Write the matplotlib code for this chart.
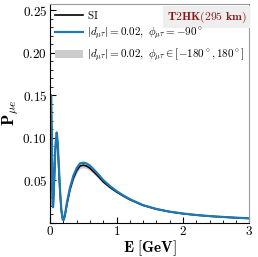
import matplotlib
matplotlib.use('Agg')
import matplotlib.pyplot as plt
from matplotlib.ticker import MultipleLocator, FuncFormatter
from matplotlib.patches import Patch
from matplotlib.lines import Line2D

plt.rcParams['mathtext.fontset'] = 'cm'
plt.rcParams['font.family'] = 'serif'
plt.rcParams['font.serif'] = ['DejaVu Serif']

# energies (GeV)
energy = [0.003, 0.015, 0.03, 0.045, 0.06, 0.08, 0.10, 0.115, 0.13, 0.15,
          0.17, 0.19, 0.20, 0.21, 0.23, 0.26, 0.30, 0.35, 0.40, 0.45,
          0.50, 0.55, 0.60, 0.70, 0.80, 0.90, 1.0, 1.1, 1.2, 1.4,
          1.6, 1.8, 2.0, 2.2, 2.4, 2.6, 2.8, 3.0]

# phi = -90 deg curve
p_m90 = [0.020, 0.150, 0.080, 0.018, 0.045, 0.090, 0.106, 0.095, 0.070, 0.038,
         0.015, 0.004, 0.003, 0.004, 0.012, 0.026, 0.041, 0.055, 0.064, 0.0695,
         0.0705, 0.0695, 0.067, 0.059, 0.050, 0.043, 0.037, 0.032, 0.0275, 0.0205,
         0.016, 0.0128, 0.0106, 0.0089, 0.0076, 0.0066, 0.0057, 0.0050]

# standard interactions
p_si = [0.020, 0.147, 0.078, 0.018, 0.043, 0.086, 0.101, 0.091, 0.067, 0.036,
        0.014, 0.004, 0.003, 0.004, 0.011, 0.024, 0.039, 0.052, 0.061, 0.0665,
        0.0675, 0.0665, 0.064, 0.0565, 0.048, 0.0415, 0.036, 0.0313, 0.027, 0.0202,
        0.0158, 0.0127, 0.0105, 0.0088, 0.0075, 0.0065, 0.0056, 0.0049]

# band over all phases
band_lo = [0.019, 0.144, 0.075, 0.016, 0.041, 0.083, 0.098, 0.088, 0.064, 0.034,
           0.013, 0.003, 0.002, 0.003, 0.010, 0.022, 0.036, 0.049, 0.058, 0.0635,
           0.0645, 0.0635, 0.061, 0.054, 0.046, 0.040, 0.035, 0.0305, 0.0263, 0.0198,
           0.0155, 0.0125, 0.0103, 0.0087, 0.0074, 0.0064, 0.0055, 0.0048]
band_hi = [0.021, 0.152, 0.082, 0.020, 0.046, 0.091, 0.107, 0.096, 0.071, 0.039,
           0.016, 0.005, 0.004, 0.005, 0.013, 0.027, 0.042, 0.056, 0.065, 0.0705,
           0.0715, 0.0705, 0.068, 0.060, 0.051, 0.044, 0.038, 0.0328, 0.028, 0.0209,
           0.0163, 0.0131, 0.0108, 0.0091, 0.0078, 0.0068, 0.0059, 0.0052]

blue = '#1f77b4'

fig = plt.figure(figsize=(2.58, 2.57), dpi=100)
ax = fig.add_axes([0.194, 0.134, 0.773, 0.850])

ax.fill_between(energy, band_lo, band_hi, color='#cccccc', lw=0)
ax.plot(energy, p_si, color='black', lw=1.2)
ax.plot(energy, p_m90, color=blue, lw=1.6)

ax.set_xlim(0, 3)
ax.set_ylim(0, 0.257)
ax.xaxis.set_major_locator(MultipleLocator(1))
ax.xaxis.set_minor_locator(MultipleLocator(0.2))
ax.yaxis.set_major_locator(MultipleLocator(0.05))
ax.yaxis.set_minor_locator(MultipleLocator(0.01))
ax.xaxis.set_major_formatter(FuncFormatter(lambda v, p: r'$\mathbf{%d}$' % round(v)))
ax.yaxis.set_major_formatter(FuncFormatter(
    lambda v, p: '' if abs(v) < 1e-9 else r'$\mathbf{%.2f}$' % v))
ax.tick_params(which='both', direction='in', labelsize=9.5, pad=2)
ax.tick_params(which='major', length=4, width=0.8)
ax.tick_params(which='minor', length=2, width=0.6)

for side in ['top', 'right']:
    ax.spines[side].set_color('#999999')

ax.set_xlabel(r'$\mathbf{E\ [GeV]}$', fontsize=11, labelpad=0)
ax.set_ylabel(r'$\mathbf{P}_{\mu e}$', fontsize=12)
ax.yaxis.set_label_coords(-0.145, 0.5)

handles = [Line2D([], [], color='black', lw=1.2),
           Line2D([], [], color=blue, lw=1.6),
           Patch(facecolor='#cccccc', edgecolor='none')]
labels = [r'$\mathrm{SI}$',
          r'$|d_{\mu\tau}|=0.02,\ \phi_{\mu\tau}=-90^\circ$',
          r'$|d_{\mu\tau}|=0.02,\ \phi_{\mu\tau}\in[-180^\circ,180^\circ]$']
ax.legend(handles, labels, loc='upper left', frameon=False, fontsize=8,
          handlelength=2.5, handletextpad=0.35, labelspacing=0.4,
          borderaxespad=0.15, borderpad=0.3)

ax.text(0.985, 0.94, r'$\mathbf{T2HK(295\ km)}$', transform=ax.transAxes,
        ha='right', va='center', fontsize=8.5, color='#8b1a1a',
        bbox=dict(facecolor='#eeeeee', edgecolor='none', pad=2.5))

fig.savefig('out.png', dpi=100)
